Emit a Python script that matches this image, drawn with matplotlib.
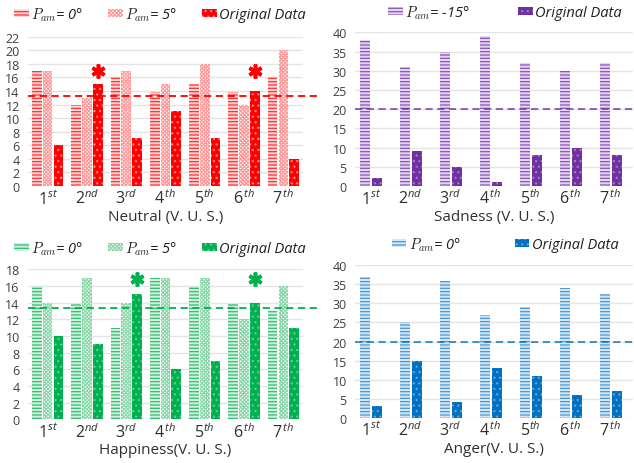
import matplotlib
matplotlib.use("Agg")
import matplotlib.pyplot as plt
from matplotlib.patches import Patch
import numpy as np

plt.rcParams['font.family'] = ['Open Sans', 'DejaVu Sans']
plt.rcParams['mathtext.fontset'] = 'custom'
plt.rcParams['mathtext.rm'] = 'Open Sans'
plt.rcParams['mathtext.it'] = 'Open Sans:italic'
plt.rcParams['hatch.linewidth'] = 0.9

# ---------------- data ----------------
tick_labels = [r'$1^{st}$', r'$2^{nd}$', r'$3^{rd}$', r'$4^{\,th}$',
               r'$5^{th}$', r'$6^{\,th}$', r'$7^{\,th}$']

neutral_p0 = [17, 12, 16, 13.8, 15, 13.8, 16]
neutral_p5 = [17, 13, 17, 15, 18, 12, 20]
neutral_orig = [6, 15, 7, 11, 7, 14, 4]
neutral_ref = 13.2
neutral_star_idx = [1, 5]
neutral_star_y = 17.0

sadness_p = [38, 31, 35, 39, 32, 30, 32]
sadness_orig = [2, 9, 5, 1, 8, 10, 8]
sadness_ref = 20

happy_p0 = [16, 14, 11, 17, 16, 14, 13]
happy_p5 = [14, 17, 14, 17, 17, 12, 16]
happy_orig = [10, 9, 15, 6, 7, 14, 11]
happy_ref = 13.4
happy_star_idx = [2, 5]
happy_star_y = 16.8

anger_p = [37, 25, 36, 27, 29, 34, 32.5]
anger_orig = [3, 15, 4, 13, 11, 6, 7]
anger_ref = 20

fig = plt.figure(figsize=(6.34, 4.64), dpi=100)
W, H = 634, 464

P0_HATCH = '-----'
P5_HATCH = 'xxxxxxxxx'
OR_HATCH = '...'


def ax_at(x0, x1, ytop, ybot):
    return fig.add_axes([x0 / W, 1 - ybot / H, (x1 - x0) / W, (ybot - ytop) / H])


def style(ax, ymax, step, xlabel, xlim):
    ax.set_ylim(0, ymax)
    ax.set_yticks(np.arange(0, ymax + 0.1, step))
    ax.set_xlim(*xlim)
    ax.set_xticks(range(7))
    ax.set_xticklabels(tick_labels, fontsize=11.5)
    for s in ax.spines.values():
        s.set_visible(False)
    ax.tick_params(axis='both', length=0)
    ax.tick_params(axis='y', labelsize=9, pad=6, colors='#404040')
    ax.tick_params(axis='x', pad=2, colors='#303030')
    ax.yaxis.grid(True, color='#e4e4e4', linewidth=1)
    ax.set_axisbelow(True)
    ax.set_xlabel(xlabel, fontsize=11, color='#303030', labelpad=1)


def legend(handles, labels, cx, cy, colsp):
    leg = fig.legend(handles, labels, loc='center', bbox_to_anchor=(cx / W, 1 - cy / H),
                     ncol=len(handles), frameon=False, handlelength=1.0, handleheight=0.5,
                     handletextpad=0.15, columnspacing=colsp,
                     prop={'style': 'italic', 'size': 10.5})
    for t in leg.get_texts():
        t.set_math_fontfamily('cm')
        t.set_color('#202020')
    return leg


def three_panel(ax, p0, p5, orig, ref, star_idx, star_y, dark, line, light, faint, pale):
    x = np.arange(7)
    w = 0.245
    ax.bar(x - 0.275, p0, w, facecolor=pale, edgecolor=line, hatch=P0_HATCH, linewidth=0)
    ax.bar(x, p5, w, facecolor='white', edgecolor=light, hatch=P5_HATCH, linewidth=0)
    ax.bar(x + 0.275, orig, w, facecolor=dark, edgecolor=faint, hatch=OR_HATCH, linewidth=0)
    ax.axhline(ref, xmin=0, xmax=1.05, color=dark, linestyle=(0, (4, 2.5)), linewidth=1.3,
               clip_on=False, zorder=5)
    ax.plot(x[star_idx] + 0.275, [star_y] * len(star_idx), linestyle='none',
            marker=(6, 2, 0), markersize=10, markeredgewidth=2.6, color=dark, zorder=6)
    h = [Patch(facecolor=pale, edgecolor=line, hatch=P0_HATCH, linewidth=0),
         Patch(facecolor='white', edgecolor=light, hatch=P5_HATCH, linewidth=0),
         Patch(facecolor=dark, edgecolor=faint, hatch=OR_HATCH, linewidth=0)]
    return h


def two_panel(ax, p, orig, ref, dark, line, faint, pale):
    x = np.arange(7)
    w = 0.245
    ax.bar(x - 0.15, p, w, facecolor=pale, edgecolor=line, hatch=P0_HATCH, linewidth=0)
    ax.bar(x + 0.15, orig, w, facecolor=dark, edgecolor=faint, hatch=OR_HATCH, linewidth=0)
    ax.axhline(ref, color=dark, alpha=0.8, linestyle=(0, (4, 2.5)), linewidth=1.3, zorder=5)
    h = [Patch(facecolor=pale, edgecolor=line, hatch=P0_HATCH, linewidth=0),
         Patch(facecolor=dark, edgecolor=faint, hatch=OR_HATCH, linewidth=0)]
    return h


# Neutral
ax1 = ax_at(28, 303, 37.7, 187)
h = three_panel(ax1, neutral_p0, neutral_p5, neutral_orig, neutral_ref, neutral_star_idx,
                neutral_star_y, '#FF0000', '#FF3030', '#FF9A9A', '#FF8080', '#FFD5D5')
style(ax1, 22, 2, 'Neutral (V. U. S.)', (-0.5, 6.5))
legend(h, [r'$P_{am}$= 0°', r'$P_{am}$= 5°', 'Original Data'], 160, 15, 1.7)

# Sadness
ax2 = ax_at(355, 633, 33.3, 187)
h = two_panel(ax2, sadness_p, sadness_orig, sadness_ref, '#7030A0', '#8A55BB', '#A078C8', '#E3D5EF')
style(ax2, 40, 5, 'Sadness (V. U. S.)', (-0.39, 6.56))
legend(h, [r'$P_{am}$= -15°', 'Original Data'], 505, 13, 3.3)

# Happiness
ax3 = ax_at(28, 303, 270.3, 420.3)
h = three_panel(ax3, happy_p0, happy_p5, happy_orig, happy_ref, happy_star_idx,
                happy_star_y, '#00B050', '#30C070', '#8CD8AA', '#5ACF8A', '#D3F0DE')
style(ax3, 18, 2, 'Happiness(V. U. S.)', (-0.5, 6.5))
legend(h, [r'$P_{am}$= 0°', r'$P_{am}$= 5°', 'Original Data'], 160, 249, 1.7)

# Anger
ax4 = ax_at(355, 633, 266.3, 418.7)
h = two_panel(ax4, anger_p, anger_orig, anger_ref, '#0070C0', '#4A98D6', '#5FA5DD', '#D4E6F5')
style(ax4, 40, 5, 'Anger(V. U. S.)', (-0.39, 6.56))
legend(h, [r'$P_{am}$= 0°', 'Original Data'], 505, 245, 3.7)

fig.savefig('out.png', dpi=100)
